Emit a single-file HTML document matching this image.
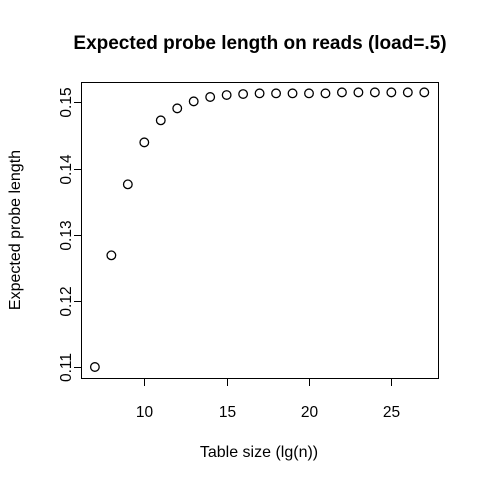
<!DOCTYPE html>
<html><head><meta charset="utf-8"><style>
html,body{margin:0;padding:0;background:#fff;}
svg{display:block;font-family:"Liberation Sans",Arial,sans-serif;}
</style></head><body>
<svg id="chart" width="480" height="480" viewBox="0 0 480 480" xmlns="http://www.w3.org/2000/svg">
<rect width="480" height="480" fill="#fff"/>
<text x="260" y="49" text-anchor="middle" font-size="19" font-weight="bold">Expected probe length on reads (load=.5)</text>
<rect x="81.5" y="82.5" width="357" height="296" fill="none" stroke="#000" stroke-width="1"/>
<text x="259" y="457" text-anchor="middle" font-size="16">Table size (lg(n))</text>
<text transform="translate(20,230) rotate(-90)" text-anchor="middle" font-size="16">Expected probe length</text>
<g id="xaxis"></g>
<g id="yaxis"></g>
<g id="points"></g>
</svg>
<script>
const xValues = [7,8,9,10,11,12,13,14,15,16,17,18,19,20,21,22,23,24,25,26,27];
const yValues = [0.1100,0.12688,0.13761,0.14395,0.14728,0.14909,0.15015,0.15081,0.15111,0.15126,0.15136,0.15136,0.15136,0.15136,0.15136,0.15151,0.15151,0.15151,0.15151,0.15151,0.15151];
const xTicks = [10,15,20,25];
const yTicks = [0.11,0.12,0.13,0.14,0.15];

const NS = "http://www.w3.org/2000/svg";
function sx(v){ return 144.3 + (v - 10) * 16.47; }
function sy(v){ return 367 - (v - 0.11) * 6616; }
function mk(tag, attrs, parent){
  const e = document.createElementNS(NS, tag);
  for (const k in attrs) e.setAttribute(k, attrs[k]);
  parent.appendChild(e);
  return e;
}
const xa = document.getElementById('xaxis');
const ya = document.getElementById('yaxis');
const pg = document.getElementById('points');
mk('line', {x1: sx(xTicks[0]), x2: sx(xTicks[xTicks.length-1]), y1: 378.5, y2: 378.5, stroke: '#000'}, xa);
xTicks.forEach(t => {
  const x = Math.round(sx(t)) + 0.5;
  const l = mk('line', {x1: x, x2: x, y1: 378.5, y2: 386, stroke: '#000'}, xa);
  
  
  const tx = mk('text', {x: x, y: 417, 'text-anchor': 'middle', 'font-size': '15.5'}, xa);
  tx.textContent = t;
  
  
});
mk('line', {x1: 81.5, x2: 81.5, y1: sy(yTicks[0]), y2: sy(yTicks[yTicks.length-1]), stroke: '#000'}, ya);
yTicks.forEach(t => {
  const y = Math.round(sy(t)) + 0.5;
  const l = mk('line', {x1: 74, x2: 81.5, y1: y, y2: y, stroke: '#000'}, ya);
  
  
  const tx = mk('text', {transform: 'translate(71,' + y + ') rotate(-90)', 'text-anchor': 'middle', 'font-size': '15.5'}, ya);
  tx.textContent = t.toFixed(2);
  
  
});
xValues.forEach((xv, i) => {
  const c = mk('circle', {cx: sx(xv), cy: sy(yValues[i]), r: 4.3, fill: 'none', stroke: '#000', 'stroke-width': 1.3}, pg);
  
  
});
</script>
</body></html>
